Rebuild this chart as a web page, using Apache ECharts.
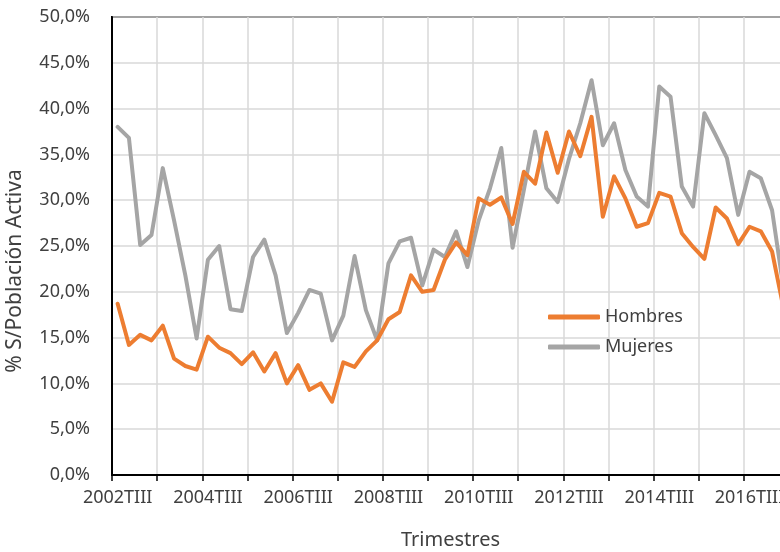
<!DOCTYPE html>
<html>
<head>
<meta charset="utf-8">
<script src="https://cdn.jsdelivr.net/npm/echarts@6/dist/echarts.min.js"></script>
<style>
    html, body { margin: 0; padding: 0; background: #fff; }
    #chart { width: 780px; height: 552px; }
</style>
</head>
<body>
<div id="chart"></div>
<script>
// Trimestres desde 2002TIII
var startYear = 2002;
var startQuarter = 3;
var quarterNames = ['TI', 'TII', 'TIII', 'TIV'];

// % S/Población Activa
var hombres = [
    18.7, 14.2, 15.3, 14.7, 16.3, 12.7, 11.9, 11.5, 15.1, 13.9,
    13.3, 12.1, 13.4, 11.3, 13.3, 10.0, 12.0, 9.3, 10.0, 8.0,
    12.3, 11.8, 13.5, 14.7, 17.0, 17.8, 21.8, 20.0, 20.2, 23.5,
    25.4, 24.0, 30.2, 29.5, 30.3, 27.4, 33.1, 31.8, 37.4, 33.0,
    37.5, 34.8, 39.1, 28.2, 32.6, 30.2, 27.1, 27.5, 30.8, 30.4,
    26.4, 24.9, 23.6, 29.2, 28.0, 25.2, 27.1, 26.6, 24.4, 18.3
];
var mujeres = [
    38.0, 36.8, 25.1, 26.2, 33.5, 27.8, 21.8, 14.9, 23.5, 25.0,
    18.1, 17.9, 23.8, 25.7, 21.8, 15.5, 17.7, 20.2, 19.8, 14.7,
    17.4, 23.9, 18.0, 14.7, 23.1, 25.5, 25.9, 20.7, 24.6, 23.8,
    26.6, 22.7, 27.8, 31.3, 35.7, 24.8, 31.1, 37.5, 31.3, 29.8,
    34.5, 38.4, 43.1, 36.0, 38.4, 33.3, 30.4, 29.3, 42.4, 41.3,
    31.5, 29.3, 39.5, 37.1, 34.6, 28.4, 33.1, 32.4, 28.9, 20.5
];

var trimestres = [];
for (var i = 0; i < hombres.length; i++) {
    var q = startQuarter - 1 + i;
    trimestres.push((startYear + Math.floor(q / 4)) + quarterNames[q % 4]);
}

var textColor = '#404040';
var fontName = 'Noto Sans';

var option = {
    backgroundColor: '#fff',
    animation: false,
    grid: {
        left: 112,
        top: 17,
        height: 458,
        width: 677, // el gráfico original sigue más allá del borde derecho
        outerBoundsMode: 'none',
        containLabel: false,
        show: true,
        borderColor: '#000',
        borderWidth: 2
    },
    // título del eje Y (algo por debajo del centro, como en el original)
    graphic: [{
        type: 'text',
        x: 15,
        y: 271,
        rotation: Math.PI / 2,
        style: {
            text: '% S/Población Activa',
            fontFamily: fontName,
            fontSize: 21,
            fill: textColor,
            align: 'center',
            verticalAlign: 'middle'
        }
    }],
    legend: {
        orient: 'vertical',
        left: 543,
        top: 302,
        icon: 'roundRect',
        itemWidth: 52,
        itemHeight: 5,
        itemGap: 10,
        textStyle: { fontFamily: fontName, fontSize: 18, color: textColor, lineHeight: 20 },
        data: ['Hombres', 'Mujeres']
    },
    xAxis: {
        type: 'category',
        data: trimestres,
        boundaryGap: true,
        name: 'Trimestres',
        nameLocation: 'middle',
        nameGap: 55,
        nameTextStyle: { fontFamily: fontName, fontSize: 20, color: textColor },
        axisLine: { lineStyle: { color: '#000', width: 2 } },
        axisTick: { show: true, interval: 3, length: 6, lineStyle: { color: '#000', width: 1.5 } },
        axisLabel: { interval: 7, margin: 14, fontFamily: fontName, fontSize: 18, color: textColor },
        splitLine: { show: true, interval: 3, lineStyle: { color: '#d9d9d9', width: 1.5 } }
    },
    yAxis: {
        type: 'value',
        min: 0,
        max: 50,
        interval: 5,
        axisLine: { show: true, lineStyle: { color: '#000', width: 2 } },
        axisTick: { show: false },
        axisLabel: {
            margin: 22,
            fontFamily: fontName,
            fontSize: 18,
            color: textColor,
            formatter: function (v) { return v.toFixed(1).replace('.', ',') + '%'; }
        },
        splitLine: { show: true, lineStyle: { color: '#d9d9d9', width: 1.5 } }
    },
    series: [
        {
            name: 'Hombres',
            type: 'line',
            data: hombres,
            showSymbol: false,
            color: '#ED7D31',
            lineStyle: { width: 4, cap: 'round', join: 'round' },
            z: 3
        },
        {
            name: 'Mujeres',
            type: 'line',
            data: mujeres,
            showSymbol: false,
            color: '#A5A5A5',
            lineStyle: { width: 4, cap: 'round', join: 'round' },
            z: 2
        }
    ]
};

echarts.init(document.getElementById('chart')).setOption(option);
</script>
</body>
</html>
